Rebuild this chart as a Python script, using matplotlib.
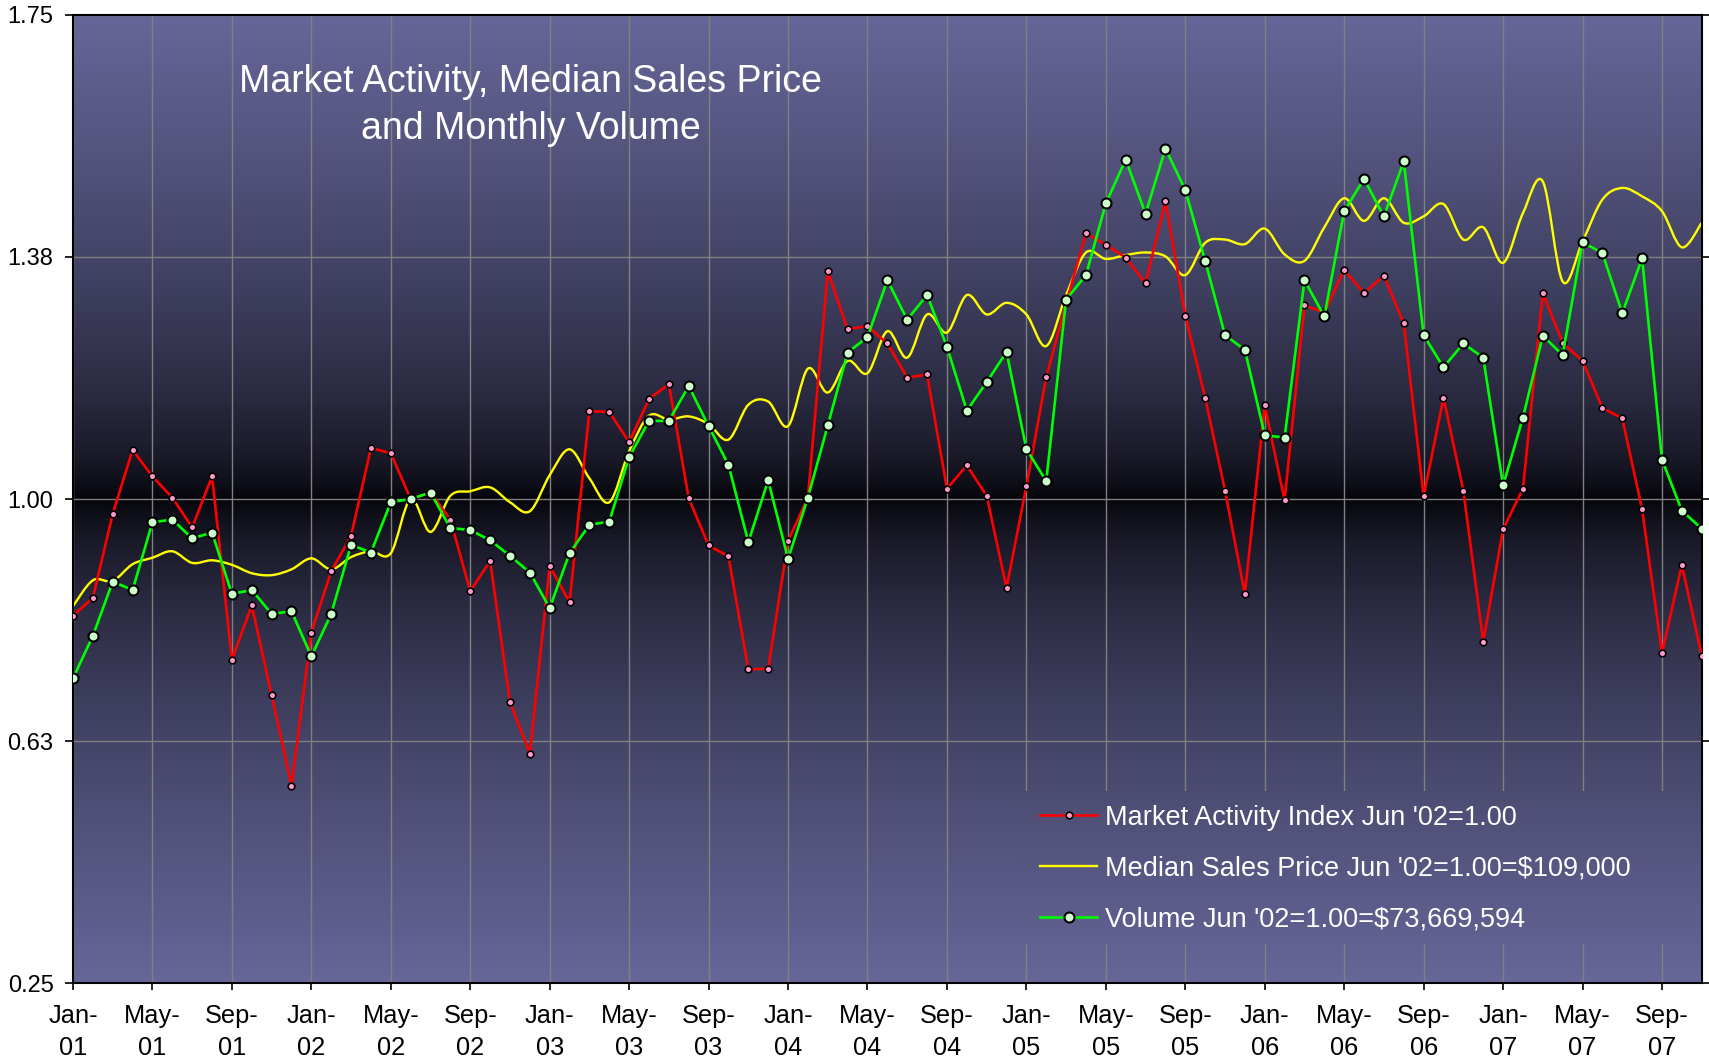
import numpy as np
import matplotlib
matplotlib.use("Agg")
import matplotlib.pyplot as plt
from matplotlib.path import Path
from matplotlib.patches import PathPatch
from matplotlib.lines import Line2D

# ---------------- data ----------------
tick_labels = ["Jan-\n01", "May-\n01", "Sep-\n01", "Jan-\n02", "May-\n02", "Sep-\n02",
               "Jan-\n03", "May-\n03", "Sep-\n03", "Jan-\n04", "May-\n04", "Sep-\n04",
               "Jan-\n05", "May-\n05", "Sep-\n05", "Jan-\n06", "May-\n06", "Sep-\n06",
               "Jan-\n07", "May-\n07", "Sep-\n07"]

market_activity = [0.819, 0.847, 0.977, 1.076, 1.035, 1.002, 0.956, 1.035, 0.751, 0.835,
                   0.696, 0.556, 0.793, 0.888, 0.943, 1.079, 1.071, 1.000, 1.010, 0.968,
                   0.857, 0.904, 0.685, 0.605, 0.896, 0.840, 1.136, 1.135, 1.088, 1.155,
                   1.178, 1.001, 0.928, 0.911, 0.736, 0.737, 0.935, 1.002, 1.353, 1.263,
                   1.268, 1.241, 1.188, 1.193, 1.016, 1.052, 1.005, 0.862, 1.020, 1.189,
                   1.303, 1.412, 1.394, 1.374, 1.334, 1.462, 1.284, 1.157, 1.013, 0.853,
                   1.145, 0.998, 1.300, 1.289, 1.355, 1.319, 1.346, 1.272, 1.004, 1.157,
                   1.013, 0.779, 0.953, 1.016, 1.319, 1.242, 1.214, 1.141, 1.125, 0.984,
                   0.761, 0.898, 0.757]

median_price = [0.834, 0.874, 0.873, 0.899, 0.909, 0.919, 0.901, 0.905, 0.898, 0.885,
                0.882, 0.891, 0.908, 0.891, 0.910, 0.919, 0.916, 1.000, 0.949, 1.005,
                1.012, 1.018, 0.995, 0.981, 1.037, 1.077, 1.032, 0.995, 1.074, 1.129,
                1.123, 1.128, 1.116, 1.092, 1.146, 1.151, 1.113, 1.202, 1.165, 1.214,
                1.195, 1.260, 1.219, 1.286, 1.258, 1.316, 1.286, 1.304, 1.286, 1.237,
                1.316, 1.382, 1.372, 1.378, 1.382, 1.376, 1.347, 1.397, 1.402, 1.395,
                1.419, 1.379, 1.369, 1.421, 1.466, 1.431, 1.466, 1.428, 1.438, 1.457,
                1.402, 1.421, 1.366, 1.443, 1.492, 1.337, 1.399, 1.464, 1.482, 1.469,
                1.446, 1.390, 1.428]

volume = [0.722, 0.788, 0.872, 0.859, 0.964, 0.968, 0.939, 0.948, 0.853, 0.859,
          0.822, 0.826, 0.756, 0.822, 0.929, 0.917, 0.995, 1.000, 1.010, 0.955,
          0.952, 0.936, 0.912, 0.886, 0.831, 0.916, 0.960, 0.965, 1.065, 1.121,
          1.121, 1.175, 1.113, 1.053, 0.933, 1.029, 0.907, 1.002, 1.114, 1.227,
          1.251, 1.339, 1.278, 1.316, 1.236, 1.137, 1.181, 1.228, 1.077, 1.028,
          1.309, 1.347, 1.458, 1.526, 1.442, 1.543, 1.479, 1.369, 1.254, 1.231,
          1.099, 1.095, 1.339, 1.283, 1.446, 1.496, 1.438, 1.523, 1.254, 1.204,
          1.241, 1.219, 1.021, 1.126, 1.253, 1.223, 1.398, 1.381, 1.288, 1.373,
          1.061, 0.982, 0.954]

y_ticks = [0.25, 0.625, 1.0, 1.375, 1.75]
y_tick_labels = ["0.25", "0.63", "1.00", "1.38", "1.75"]

labels = ["Market Activity Index Jun '02=1.00",
          "Median Sales Price Jun '02=1.00=$109,000",
          "Volume Jun '02=1.00=$73,669,594"]
title = "Market Activity, Median Sales Price\nand Monthly Volume"

# ---------------- style ----------------
plt.rcParams['font.family'] = ['Liberation Sans', 'DejaVu Sans']

EDGE = np.array([102, 102, 153]) / 255.0
CENTER = np.array([2, 2, 6]) / 255.0
Y0, Y1 = 0.25, 1.75


def gradient(ylo, yhi, n=600):
    yy = np.linspace(ylo, yhi, n)
    t = np.clip(np.abs(yy - 1.0) / 0.75, 0, 1) ** 0.6
    img = CENTER[None, :] * (1 - t[:, None]) + EDGE[None, :] * t[:, None]
    return img[:, None, :]


def smooth_path(xs, ys):
    n = len(xs)
    verts = [(xs[0], ys[0])]
    codes = [Path.MOVETO]
    for k in range(n - 1):
        p0 = k - 1 if k > 0 else k
        p3 = k + 2 if k + 2 < n else k + 1
        c1 = (xs[k] + (xs[k + 1] - xs[p0]) / 6.0, ys[k] + (ys[k + 1] - ys[p0]) / 6.0)
        c2 = (xs[k + 1] - (xs[p3] - xs[k]) / 6.0, ys[k + 1] - (ys[p3] - ys[k]) / 6.0)
        verts += [c1, c2, (xs[k + 1], ys[k + 1])]
        codes += [Path.CURVE4] * 3
    return Path(verts, codes)


fig = plt.figure(figsize=(17.09, 10.60), dpi=100)
ax = fig.add_axes([0.04272, 0.07264, 0.95301, 0.91321])

n = len(market_activity)
x = np.arange(n)
xmax = n - 1

ax.imshow(gradient(Y0, Y1), extent=[0, xmax, Y0, Y1], aspect='auto',
          origin='lower', zorder=0, interpolation='bilinear')

# legend background (hides grid lines like the reference)
leg_x0, leg_y0, leg_y1 = 47.5, 0.31, 0.547
ax.imshow(gradient(leg_y0, leg_y1, 200), extent=[leg_x0, xmax, leg_y0, leg_y1],
          aspect='auto', origin='lower', zorder=1, interpolation='bilinear')

ax.set_xlim(0, xmax)
ax.set_ylim(Y0, Y1)

ax.set_xticks(np.arange(0, n, 4))
ax.set_xticklabels(tick_labels, linespacing=1.42)
ax.set_yticks(y_ticks)
ax.set_yticklabels(y_tick_labels)

ax.grid(True, color='#808080', linewidth=1.0)
ax.set_axisbelow(True)

ax.tick_params(axis='x', direction='out', length=5, width=1.2, pad=10, labelsize=18.3)
ax.tick_params(axis='y', direction='out', length=6, width=1.2, pad=8, labelsize=17,
               right=True)
for s in ax.spines.values():
    s.set_color('black')
    s.set_linewidth(1.5)

# median price: smoothed line
ax.add_patch(PathPatch(smooth_path(x, median_price), fill=False,
                       edgecolor='#ffff00', linewidth=1.7, zorder=2))

ax.plot(x, market_activity, color='#ff0000', linewidth=1.9, marker='o',
        markersize=4.8, markerfacecolor='#ff99cc', markeredgecolor='black',
        markeredgewidth=1.2, zorder=3)
ax.plot(x, volume, color='#00ff00', linewidth=1.9, marker='o',
        markersize=7.2, markerfacecolor='#ccffcc', markeredgecolor='black',
        markeredgewidth=1.5, zorder=4)

ax.text(0.281, 0.9065, title, transform=ax.transAxes, ha='center', va='center',
        multialignment='center', color='white', fontsize=27, linespacing=1.4,
        zorder=6)

handles = [
    Line2D([], [], color='#ff0000', linewidth=1.9, marker='o', markersize=4.8,
           markerfacecolor='#ff99cc', markeredgecolor='black', markeredgewidth=1.2),
    Line2D([], [], color='#ffff00', linewidth=1.7),
    Line2D([], [], color='#00ff00', linewidth=1.9, marker='o', markersize=7.2,
           markerfacecolor='#ccffcc', markeredgecolor='black', markeredgewidth=1.5),
]
leg = ax.legend(handles, labels, loc='center left', bbox_to_anchor=(0.594, 0.1180),
                frameon=False, fontsize=19.5, handlelength=2.1, handletextpad=0.3,
                labelspacing=0.92, borderpad=0, borderaxespad=0, numpoints=1)
for t in leg.get_texts():
    t.set_color('white')
leg.set_zorder(7)

fig.savefig("out.png", dpi=100, facecolor='white')
